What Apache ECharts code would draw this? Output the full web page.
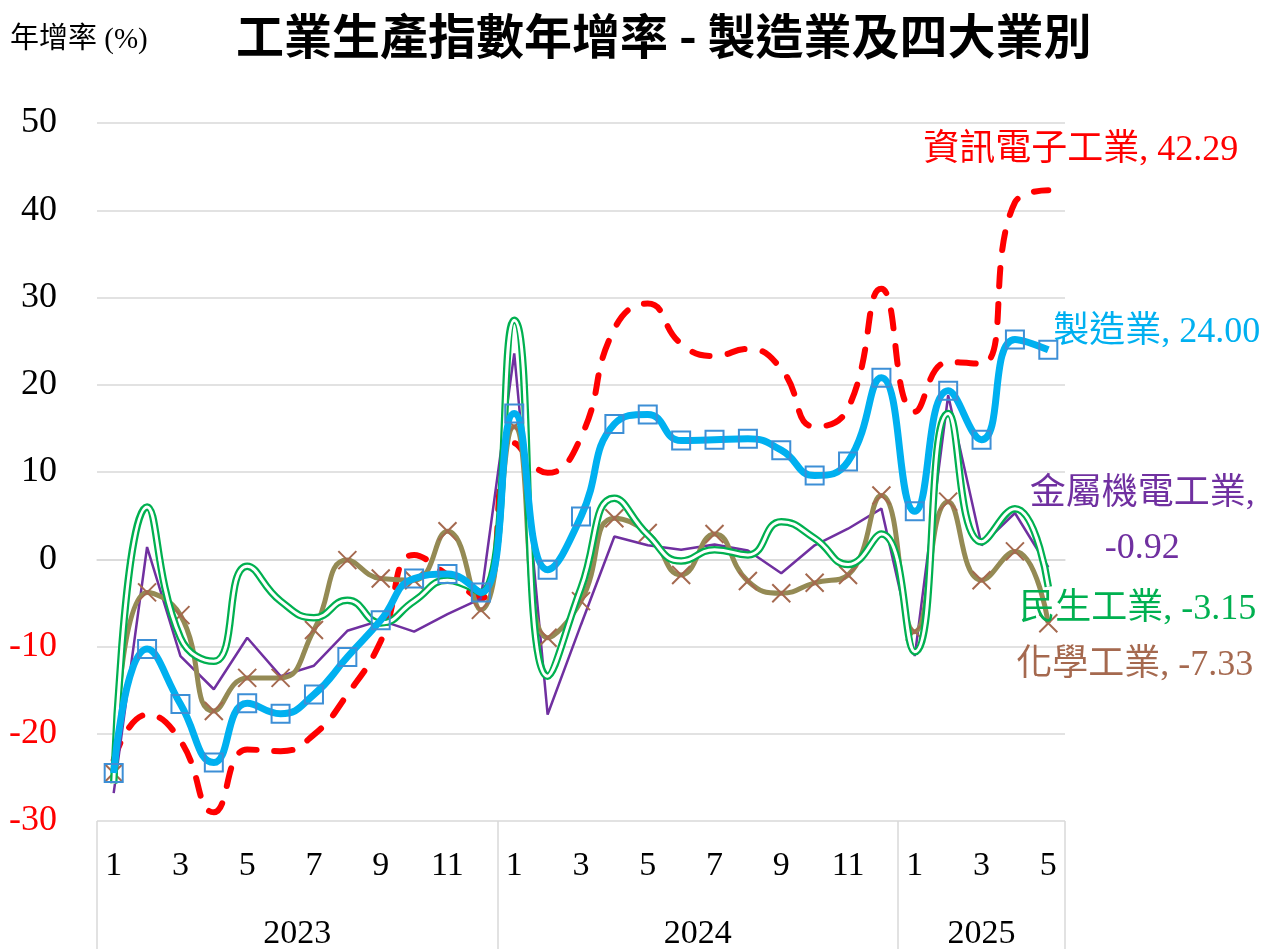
<!DOCTYPE html>
<html>
<head>
<meta charset="utf-8">
<script src="https://cdn.jsdelivr.net/npm/echarts@6/dist/echarts.min.js"></script>
<style>
  html, body { margin: 0; padding: 0; background: #fff; }
  #root { width: 1274px; height: 951px; }
</style>
</head>
<body>
<div id="root"></div>
<script>
// months 2023-01 .. 2025-05
var months = ['1','2','3','4','5','6','7','8','9','10','11','12',
              '1','2','3','4','5','6','7','8','9','10','11','12',
              '1','2','3','4','5'];
var yearLabels = ['2023', '2024', '2025'];
var yearCenters = [5.5, 17.5, 26];
var yearBounds = [-0.5, 11.5, 23.5, 28.5];

// 年增率 (%)
var manufacturing = [-24.5, -10.3, -16.6, -23.3, -16.5, -17.7, -15.5, -11.2, -7.0, -2.2, -1.7, -3.8,
                     16.7, -1.2, 4.9, 15.5, 16.6, 13.6, 13.7, 13.8, 12.5, 9.6, 11.2, 20.8,
                     5.5, 19.3, 13.7, 25.2, 24.00];
var electronics = [-23.0, -17.8, -20.8, -29.0, -21.8, -22.0, -20.1, -15.5, -9.4, 0.5, -1.8, -4.5,
                   13.3, 9.9, 14.0, 26.4, 29.3, 24.7, 23.3, 24.1, 21.8, 15.2, 17.3, 31.0,
                   16.9, 22.6, 22.4, 40.9, 42.29];
var metal = [-26.8, 1.4, -11.1, -14.9, -9.0, -13.4, -12.2, -8.2, -7.0, -8.3, -6.3, -4.5,
             23.6, -17.8, -7.5, 2.6, 1.6, 1.1, 1.7, 1.0, -1.6, 1.6, 3.5, 5.8,
             -11.1, 18.8, 1.6, 5.3, -0.92];
var livelihood = [-25.7, 6.0, -9.0, -11.7, -0.8, -4.8, -6.7, -4.7, -7.3, -4.8, -2.4, -3.8,
                  27.4, -13.4, -3.3, 7.0, 2.8, -0.2, 1.1, 0.5, 4.3, 2.4, -0.6, 2.9,
                  -10.6, 16.7, 2.0, 5.8, -3.15];
var chemical = [-24.5, -3.8, -6.4, -17.4, -13.6, -13.6, -8.1, -0.1, -2.2, -2.4, 3.2, -5.8,
                15.2, -9.0, -4.8, 4.7, 3.0, -1.8, 2.9, -2.5, -3.9, -2.7, -1.8, 7.3,
                -8.3, 6.6, -2.4, 0.9, -7.33];

var serif = '"Liberation Serif", "Noto Sans CJK TC", serif';

var chart = echarts.init(document.getElementById('root'));

function endLabel(text, color, offset, extra)
{
	var lab = {
		show: true,
		formatter: text,
		color: color,
		fontSize: 36,
		fontFamily: serif,
		distance: 5,
		offset: offset
	};
	for (var k in extra) lab[k] = extra[k];
	return lab;
}

var option = {
	animation: false,
	backgroundColor: '#ffffff',
	title: [
		{
			text: '工業生產指數年增率 - 製造業及四大業別',
			left: 236, top: 12, padding: 0,
			textStyle: { fontSize: 48, fontWeight: 'bold', color: '#000', fontFamily: '"Noto Sans CJK TC", sans-serif' }
		},
		{
			text: '年增率 (%)',
			left: 10, top: 26, padding: 0,
			textStyle: { fontSize: 29, fontWeight: 'normal', color: '#000', fontFamily: serif }
		}
	],
	grid: { left: 97, right: 209, top: 123, bottom: 128 },
	xAxis: [
		{
			type: 'category',
			data: months,
			boundaryGap: true,
			axisLine: { lineStyle: { color: '#d9d9d9', width: 1.5 } },
			axisTick: { show: false },
			axisLabel: { interval: 1, fontSize: 34, color: '#000', fontFamily: serif, margin: 28 }
		},
		{
			type: 'value',
			position: 'bottom',
			min: -0.5, max: 28.5,
			axisLine: { show: false },
			splitLine: { show: false },
			axisTick: {
				show: true, customValues: yearBounds, length: 128,
				lineStyle: { color: '#d9d9d9', width: 1.5 }
			},
			axisLabel: {
				customValues: yearCenters,
				formatter: function (v) { return yearLabels[yearCenters.indexOf(v)]; },
				fontSize: 34, color: '#000', fontFamily: serif, margin: 96
			}
		}
	],
	yAxis: {
		type: 'value',
		min: -30, max: 50, interval: 10,
		axisLine: { show: false },
		axisTick: { show: false },
		splitLine: { lineStyle: { color: '#d9d9d9', width: 1.5 } },
		axisLabel: {
			fontSize: 36, fontFamily: serif, margin: 40,
			color: function (v) { return Number(v) < 0 ? '#ff0000' : '#000000'; }
		}
	},
	series: [
		{
			name: '資訊電子工業', type: 'line', data: electronics,
			smooth: 0.5, showSymbol: false, symbol: 'none', z: 2,
			lineStyle: { color: '#ff0000', width: 6, type: [18, 18], cap: 'round' },
			itemStyle: { color: '#ff0000' },
			endLabel: endLabel('資訊電子工業, 42.29', '#ff0000', [-130, -40])
		},
		{
			name: '金屬機電工業', type: 'line', data: metal,
			smooth: false, symbol: 'none', z: 3,
			lineStyle: { color: '#7030a0', width: 2.5 },
			itemStyle: { color: '#7030a0' },
			endLabel: endLabel('金屬機電工業,\n-0.92', '#7030a0', [89, -46], { align: 'center', lineHeight: 54 })
		},
		{
			name: '化學工業', type: 'line', data: chemical,
			smooth: 0.5, symbol: 'path://M0,0L10,10M10,0L0,10', symbolSize: 18, z: 4,
			lineStyle: { color: '#948a54', width: 5 },
			itemStyle: { color: 'transparent', borderColor: '#a5694f', borderWidth: 2 },
			endLabel: endLabel('化學工業, -7.33', '#a5694f', [-37, 42])
		},
		{
			name: '民生工業', type: 'line', data: livelihood,
			smooth: 0.5, symbol: 'none', z: 5,
			lineStyle: { color: '#00b050', width: 7.5 },
			itemStyle: { color: '#00b050' },
			endLabel: endLabel('民生工業, -3.15', '#00b050', [-34, 23])
		},
		{
			name: '民生工業-inner', type: 'line', data: livelihood,
			smooth: 0.5, symbol: 'none', z: 5,
			lineStyle: { color: '#ffffff', width: 3 },
			itemStyle: { color: '#ffffff' }
		},
		{
			name: '製造業', type: 'line', data: manufacturing,
			smooth: 0.5, symbol: 'rect', symbolSize: 18, z: 6,
			lineStyle: { color: '#00b0f0', width: 7 },
			itemStyle: { color: 'transparent', borderColor: '#3d8fd6', borderWidth: 2 },
			endLabel: endLabel('製造業, 24.00', '#00b0f0', [0, -17])
		}
	]
};

chart.setOption(option);
</script>
</body>
</html>
